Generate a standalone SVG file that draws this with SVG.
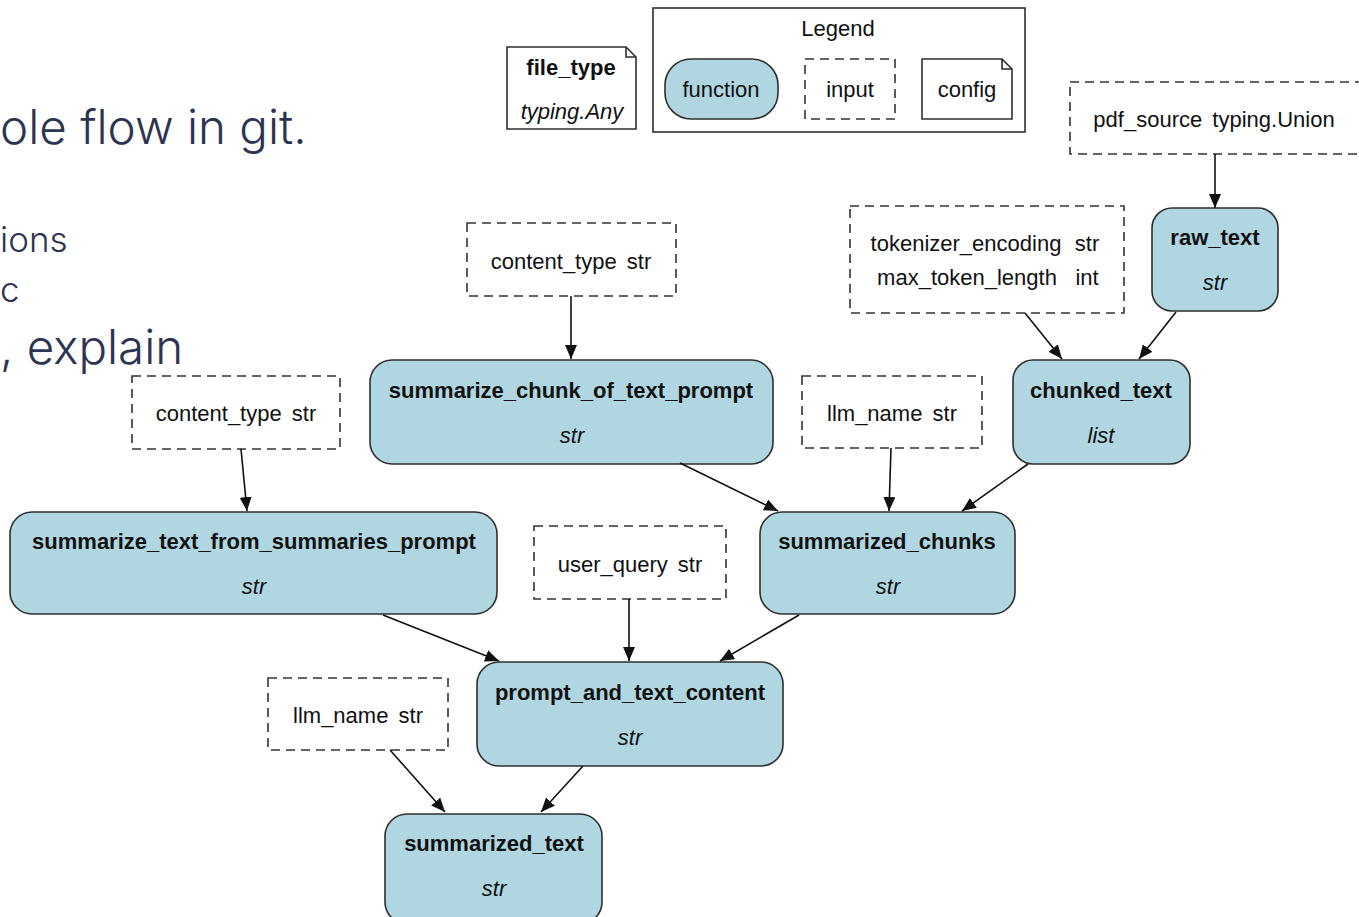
<svg xmlns="http://www.w3.org/2000/svg" width="1359" height="917" viewBox="0 0 1359 917">
<style>
.bg{fill:#ffffff}
.fn{fill:#b0d6e2;stroke:#2e2e2e;stroke-width:1.6}
.inp{fill:#ffffff;stroke:#333333;stroke-width:1.6;stroke-dasharray:9,6}
.cfg{fill:#ffffff;stroke:#2e2e2e;stroke-width:1.6}
.t{font-family:"Liberation Sans",Arial,sans-serif;font-size:22px;fill:#111111;text-anchor:middle}
.b{font-weight:bold}
.i{font-style:italic}
.w{word-spacing:4px}
.edge{stroke:#111111;stroke-width:1.6;fill:none}
.slide{font-family:Inter,"Noto Sans",sans-serif;font-weight:300;fill:#2d3452}
</style>
<defs>
<marker id="arr" markerUnits="userSpaceOnUse" markerWidth="16" markerHeight="13" refX="14" refY="6" orient="auto">
<path d="M0,0 L14,6 L0,12 z" fill="#111111"/>
</marker>
</defs>
<rect class="bg" x="0" y="0" width="1359" height="917"/>

<g id="slide-text">
<text class="slide" x="0" y="144" font-size="47.5">ole flow in git.</text>
<text class="slide" x="0" y="252" font-size="35">ions</text>
<text class="slide" x="0" y="302" font-size="35">c</text>
<text class="slide" x="0" y="364" font-size="47.5">, explain</text>
</g>

<g id="legend">
<rect x="653" y="8" width="372" height="124" fill="#ffffff" stroke="#2e2e2e" stroke-width="1.6"/>
<text class="t" x="838" y="36">Legend</text>
<rect class="fn" x="665" y="59" width="113" height="60" rx="26"/>
<text class="t" x="721" y="97">function</text>
<rect class="inp" x="805" y="59" width="90" height="60"/>
<text class="t" x="850" y="97">input</text>
<path class="cfg" d="M922,59 H1002 L1012,69 V119 H922 Z M1002,59 V69 H1012"/>
<text class="t" x="967" y="97">config</text>
</g>

<g id="file_type">
<path class="cfg" d="M507,47 H626 L636,57 V129 H507 Z M626,47 V57 H636"/>
<text class="t b" x="571" y="75">file_type</text>
<text class="t i" x="572" y="119">typing.Any</text>
</g>

<g id="pdf_source">
<rect class="inp" x="1070" y="82" width="295" height="72"/>
<text class="t w" x="1214" y="127">pdf_source typing.Union</text>
</g>

<g id="raw_text">
<rect class="fn" x="1152" y="208" width="126" height="103" rx="20"/>
<text class="t b" x="1215" y="245">raw_text</text>
<text class="t i" x="1215" y="290">str</text>
</g>

<g id="tokenizer_inputs">
<rect class="inp" x="850" y="206" width="274" height="107"/>
<text class="t" x="966" y="251">tokenizer_encoding</text>
<text class="t" x="1087" y="251">str</text>
<text class="t" x="967" y="285">max_token_length</text>
<text class="t" x="1087" y="285">int</text>
</g>

<g id="chunked_text">
<rect class="fn" x="1013" y="360" width="177" height="104" rx="20"/>
<text class="t b" x="1101" y="398">chunked_text</text>
<text class="t i" x="1101" y="443">list</text>
</g>

<g id="content_type_1">
<rect class="inp" x="467" y="223" width="209" height="73"/>
<text class="t w" x="571" y="269">content_type str</text>
</g>

<g id="summarize_chunk_of_text_prompt">
<rect class="fn" x="370" y="360" width="403" height="104" rx="22"/>
<text class="t b" x="571" y="398">summarize_chunk_of_text_prompt</text>
<text class="t i" x="572" y="443">str</text>
</g>

<g id="llm_name_1">
<rect class="inp" x="802" y="376" width="180" height="72"/>
<text class="t w" x="892" y="421">llm_name str</text>
</g>

<g id="summarized_chunks">
<rect class="fn" x="760" y="512" width="255" height="102" rx="22"/>
<text class="t b" x="887" y="549">summarized_chunks</text>
<text class="t i" x="888" y="594">str</text>
</g>

<g id="content_type_2">
<rect class="inp" x="132" y="376" width="208" height="73"/>
<text class="t w" x="236" y="421">content_type str</text>
</g>

<g id="summarize_text_from_summaries_prompt">
<rect class="fn" x="10" y="512" width="487" height="102" rx="22"/>
<text class="t b" x="254" y="549">summarize_text_from_summaries_prompt</text>
<text class="t i" x="254" y="594">str</text>
</g>

<g id="user_query">
<rect class="inp" x="534" y="526" width="192" height="73"/>
<text class="t w" x="630" y="572">user_query str</text>
</g>

<g id="prompt_and_text_content">
<rect class="fn" x="477" y="662" width="306" height="104" rx="22"/>
<text class="t b" x="630" y="700">prompt_and_text_content</text>
<text class="t i" x="630" y="745">str</text>
</g>

<g id="llm_name_2">
<rect class="inp" x="268" y="678" width="180" height="72"/>
<text class="t w" x="358" y="723">llm_name str</text>
</g>

<g id="summarized_text">
<rect class="fn" x="385" y="814" width="217" height="110" rx="22"/>
<text class="t b" x="494" y="851">summarized_text</text>
<text class="t i" x="494" y="896">str</text>
</g>

<g id="connectors">
<line class="edge" x1="1215" y1="154" x2="1215" y2="208" marker-end="url(#arr)"/>
<line class="edge" x1="1025" y1="313" x2="1062" y2="359" marker-end="url(#arr)"/>
<line class="edge" x1="1176" y1="312" x2="1139" y2="359" marker-end="url(#arr)"/>
<line class="edge" x1="571" y1="296" x2="571" y2="359" marker-end="url(#arr)"/>
<line class="edge" x1="891" y1="448" x2="889" y2="511" marker-end="url(#arr)"/>
<line class="edge" x1="680" y1="463" x2="778" y2="511" marker-end="url(#arr)"/>
<line class="edge" x1="1028" y1="464" x2="962" y2="511" marker-end="url(#arr)"/>
<line class="edge" x1="241" y1="449" x2="247" y2="511" marker-end="url(#arr)"/>
<line class="edge" x1="629" y1="599" x2="629" y2="661" marker-end="url(#arr)"/>
<line class="edge" x1="383" y1="615" x2="499" y2="661" marker-end="url(#arr)"/>
<line class="edge" x1="799" y1="615" x2="720" y2="661" marker-end="url(#arr)"/>
<line class="edge" x1="390" y1="750" x2="445" y2="812" marker-end="url(#arr)"/>
<line class="edge" x1="583" y1="766" x2="541" y2="812" marker-end="url(#arr)"/>
</g>
</svg>
